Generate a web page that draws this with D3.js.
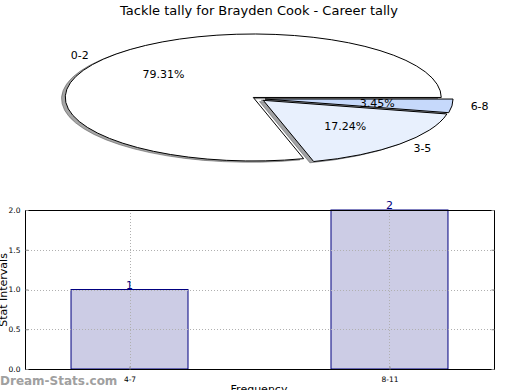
<!DOCTYPE html>
<html>
<head>
<meta charset="utf-8">
<script src="https://cdn.jsdelivr.net/npm/d3@7"></script>
<style>
  body { margin: 0; background: #fff; }
  svg { font-family: "DejaVu Sans", sans-serif; }
</style>
</head>
<body>
<svg id="chart" width="520" height="390"></svg>
<script>
// pie data
const pieLabels = ["0-2", "3-5", "6-8"];
const pieValues = [23, 5, 1];
const pieColors = ["#ffffff", "#e8f0fd", "#c6d9fb"];
const explode = [0.035, 0.035, 0.035];

// bar data
const barCats = ["4-7", "8-11"];
const barValues = [1, 2];
const yTicks = [0, 0.5, 1, 1.5, 2];

const svg = d3.select("#chart");

// title
svg.append("text")
    .attr("x", 259).attr("y", 15)
    .attr("text-anchor", "middle")
    .style("font-size", "13px")
    .text("Tackle tally for Brayden Cook - Career tally");

// ---- pie, squashed into an ellipse like the original ----
const cx = 258.5, cy = 98.8, rx = 188, ry = 63.5;
const total = d3.sum(pieValues);

// start east and go counterclockwise
const arcs = d3.pie().sort(null)
    .startAngle(Math.PI / 2)
    .endAngle(Math.PI / 2 - 2 * Math.PI)(pieValues);

const arc = d3.arc().innerRadius(0).outerRadius(1);

const pieG = svg.append("g").attr("transform", `translate(${cx},${cy})`);

const offs = arcs.map((a, i) => {
  const mid = (a.startAngle + a.endAngle) / 2;
  return [Math.sin(mid), -Math.cos(mid), explode[i]];
});

// shadows first, underneath everything
pieG.selectAll(".shadow")
    .data(arcs)
  .enter().append("path")
    .attr("class", "shadow")
    .attr("transform", (d, i) => {
      const [ux, uy, e] = offs[i];
      return `translate(${(ux * e - 0.02) * rx},${(uy * e + 0.02) * ry}) scale(${rx},${ry})`;
    })
    .attr("d", arc)
    .attr("fill", (d, i) => {
      const c = d3.rgb(pieColors[i]);
      return d3.rgb(c.r * 0.3, c.g * 0.3, c.b * 0.3);
    })
    .attr("fill-opacity", 0.5)
    .attr("stroke", (d, i) => {
      const c = d3.rgb(pieColors[i]);
      return d3.rgb(c.r * 0.3, c.g * 0.3, c.b * 0.3);
    })
    .attr("stroke-opacity", 0.5)
    .attr("stroke-width", 1)
    .attr("vector-effect", "non-scaling-stroke");

pieG.selectAll(".slice")
    .data(arcs)
  .enter().append("path")
    .attr("class", "slice")
    .attr("transform", (d, i) => {
      const [ux, uy, e] = offs[i];
      return `translate(${ux * e * rx},${uy * e * ry}) scale(${rx},${ry})`;
    })
    .attr("d", arc)
    .attr("fill", (d, i) => pieColors[i])
    .attr("stroke", "#000")
    .attr("stroke-width", 1)
    .attr("vector-effect", "non-scaling-stroke");

// outer labels at 1.1, percentages at 0.6
arcs.forEach((a, i) => {
  const [ux, uy, e] = offs[i];
  const lx = (ux * (1.1 + e)) * rx, ly = (uy * (1.1 + e)) * ry;
  pieG.append("text")
      .attr("x", lx).attr("y", ly)
      .attr("dy", "0.35em")
      .attr("text-anchor", ux > 0 ? "start" : "end")
      .style("font-size", "11px")
      .text(pieLabels[i]);
  const px = (ux * (0.6 + e)) * rx, py = (uy * (0.6 + e)) * ry;
  pieG.append("text")
      .attr("x", px).attr("y", py)
      .attr("dy", "0.35em")
      .attr("text-anchor", "middle")
      .style("font-size", "11px")
      .text((pieValues[i] / total * 100).toFixed(2) + "%");
});

// ---- bar chart ----
const bx0 = 25, bx1 = 494, by0 = 210, by1 = 369;

const x = d3.scaleBand()
    .domain(barCats)
    .range([bx0, bx1])
    .paddingInner(0.55)
    .paddingOuter(0.177);

const y = d3.scaleLinear().domain([0, 2]).range([by1, by0]);

const barG = svg.append("g");

barG.selectAll(".bar")
    .data(barValues)
  .enter().append("rect")
    .attr("class", "bar")
    .attr("x", (d, i) => x(barCats[i]))
    .attr("y", d => y(d))
    .attr("width", x.bandwidth())
    .attr("height", d => y(0) - y(d))
    .attr("fill", "#ccccE5")
    .attr("stroke", "#000080")
    .attr("stroke-width", 1);

// dotted grid on top of bars
barG.selectAll(".hgrid")
    .data(yTicks)
  .enter().append("line")
    .attr("x1", bx0).attr("x2", bx1)
    .attr("y1", d => Math.round(y(d)) + 0.5).attr("y2", d => Math.round(y(d)) + 0.5)
    .attr("stroke", "#b0b0b0")
    .attr("stroke-dasharray", "1,2");

barG.selectAll(".vgrid")
    .data(barCats)
  .enter().append("line")
    .attr("x1", d => Math.round(x(d) + x.bandwidth() / 2) + 0.5)
    .attr("x2", d => Math.round(x(d) + x.bandwidth() / 2) + 0.5)
    .attr("y1", by0).attr("y2", by1)
    .attr("stroke", "#b0b0b0")
    .attr("stroke-dasharray", "1,2");

// value labels
barG.selectAll(".val")
    .data(barValues)
  .enter().append("text")
    .attr("x", (d, i) => x(barCats[i]) + x.bandwidth() / 2)
    .attr("y", d => y(d) - 1)
    .attr("text-anchor", "middle")
    .attr("fill", "#000080")
    .style("font-size", "11px")
    .text(d => d);

// frame
barG.append("rect")
    .attr("x", bx0 + 0.5).attr("y", by0 + 0.5)
    .attr("width", bx1 - bx0).attr("height", by1 - by0)
    .attr("fill", "none")
    .attr("stroke", "#000")
    .attr("stroke-width", 1);

// axes
const yAxis = d3.axisLeft(y).tickValues(yTicks).tickFormat(d3.format(".1f")).tickSize(-3).tickPadding(5);
barG.append("g")
    .attr("transform", `translate(${bx0 + 0.5},0)`)
    .call(yAxis)
    .call(g => g.select(".domain").remove())
    .call(g => g.selectAll("line").attr("stroke", "#888"))
    .call(g => g.selectAll("text").style("font-size", "7.5px").attr("font-family", "DejaVu Sans"));

barG.append("g")
    .attr("transform", `translate(${bx1 + 0.5},0)`)
    .call(d3.axisRight(y).tickValues(yTicks).tickSize(-3).tickFormat(""))
    .call(g => g.select(".domain").remove())
    .call(g => g.selectAll("line").attr("stroke", "#888"));

const xAxis = d3.axisBottom(x).tickSize(-3).tickPadding(7);
barG.append("g")
    .attr("transform", `translate(0.5,${by1 + 0.5})`)
    .call(xAxis)
    .call(g => g.select(".domain").remove())
    .call(g => g.selectAll("line").attr("stroke", "#888"))
    .call(g => g.selectAll("text").style("font-size", "7.5px").attr("font-family", "DejaVu Sans"));

// axis titles
svg.append("text")
    .attr("transform", "translate(7,290) rotate(-90)")
    .attr("text-anchor", "middle")
    .style("font-size", "11px")
    .text("Stat Intervals");

svg.append("text")
    .attr("x", 259).attr("y", 393)
    .attr("text-anchor", "middle")
    .style("font-size", "11px")
    .text("Frequency");

// watermark
svg.append("text")
    .attr("x", 0).attr("y", 385)
    .attr("fill", "#a0a0a0")
    .style("font-size", "12px")
    .style("font-weight", "bold")
    .text("Dream-Stats.com");
</script>
</body>
</html>
